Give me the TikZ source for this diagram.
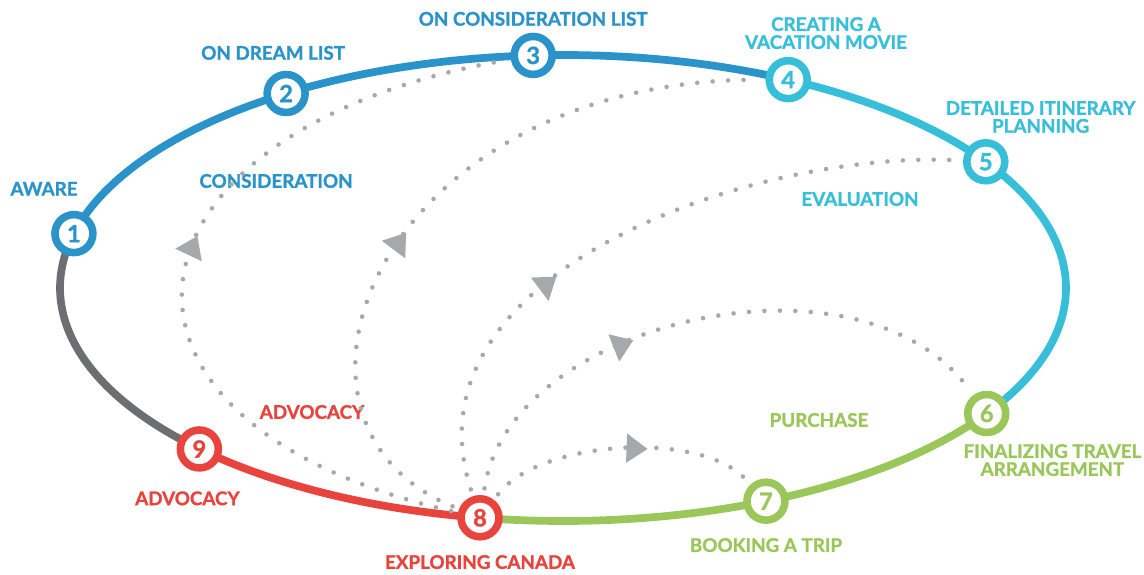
\documentclass[tikz,border=0pt]{standalone}
\usepackage{fontspec}
\setmainfont{Lato}[BoldFeatures={FakeBold=1.3}]
\usetikzlibrary{arrows.meta, positioning, decorations.markings}

\definecolor{stblue}{HTML}{2A93C9}
\definecolor{stcyan}{HTML}{37BFD9}
\definecolor{stgreen}{HTML}{9BC659}
\definecolor{stred}{HTML}{E8443D}
\definecolor{stgray}{HTML}{6D6E71}
\definecolor{dotgray}{HTML}{A7A8AC}

\begin{document}
\begin{tikzpicture}[
    x=0.02cm, y=0.02cm,
    ring/.style={line width=4.4pt},
    stage/.style={
        circle,
        draw=#1,
        fill=white,
        line width=4.3pt,
        minimum size=21.6pt,
        inner sep=0pt,
        text=#1,
        font=\fontsize{13.5}{13.5}\selectfont\bfseries
    },
    lbl/.style={
        text=#1,
        inner sep=0pt,
        align=center,
        font=\fontsize{10.7}{10.2}\selectfont\bfseries
    },
    flow/.style={
        dotgray,
        line width=2.6pt,
        line cap=round,
        dash pattern=on 0pt off 8.8pt,
        shorten <=4pt, shorten >=4pt,
        postaction={decorate},
        decoration={markings,
            mark=at position #1 with {\arrow{Triangle[length=12pt, width=16pt]}}}
    }
]
\useasboundingbox (0,0) rectangle (1144,575);

% Points on the loop
\begin{scope}[shift={(563,287)}]
\foreach \i/\t in {1/166.5, 2/123.4, 3/93.4, 4/63.4, 5/32.8,
                   6/-32.6, 7/-66.2, 8/-99.5, 9/-136.3}
    \coordinate (p\i) at (\t:503 and 233);
\end{scope}

% Loop
\draw[ring, stblue]  (p1) arc[start angle=166.5, end angle=63.4,   x radius=503, y radius=233];
\draw[ring, stcyan]  (p4) arc[start angle=63.4,  end angle=-32.6,  x radius=503, y radius=233];
\draw[ring, stgreen] (p6) arc[start angle=-32.6, end angle=-99.5,  x radius=503, y radius=233];
\draw[ring, stred]   (p8) arc[start angle=-99.5, end angle=-136.3, x radius=503, y radius=233];
\draw[ring, stgray]  (p9) arc[start angle=-136.3, end angle=-193.5, x radius=503, y radius=233];

% Stages
\node[stage=stblue]  (n1) at (p1) {1};
\node[stage=stblue]  (n2) at (p2) {2};
\node[stage=stblue]  (n3) at (p3) {3};
\node[stage=stcyan]  (n4) at (p4) {4};
\node[stage=stcyan]  (n5) at (p5) {5};
\node[stage=stgreen] (n6) at (p6) {6};
\node[stage=stgreen] (n7) at (p7) {7};
\node[stage=stred]   (n8) at (p8) {8};
\node[stage=stred]   (n9) at (p9) {9};

% Stage labels
\node[lbl=stblue, above=8.5pt of n1, xshift=-17pt]  (aware)    {AWARE};
\node[lbl=stblue, above=6pt of n2, xshift=-7.4pt]   (dream)    {ON DREAM LIST};
\node[lbl=stblue, above=3.7pt of n3]                (conslist) {ON CONSIDERATION LIST};
\node[lbl=stcyan, above=4.3pt of n4, xshift=21.5pt] (movie)    {CREATING A\\VACATION MOVIE};
\node[lbl=stcyan, above=3.3pt of n5, xshift=31.2pt] (itin)     {DETAILED ITINERARY\\PLANNING};
\node[lbl=stgreen, below=4.3pt of n6, xshift=37.4pt] (final)   {FINALIZING TRAVEL\\ARRANGEMENT};
\node[lbl=stgreen, below=7.9pt of n7]               (booking)  {BOOKING A TRIP};
\node[lbl=stred, below=8.1pt of n8]                 (explore)  {EXPLORING CANADA};
\node[lbl=stred, below=11pt of n9, xshift=-6.8pt]   (advout)   {ADVOCACY};

% Phase labels
\node[lbl=stblue]  (consider) at (276,394) {CONSIDERATION};
\node[lbl=stcyan]  (evaluate) at (860,376) {EVALUATION};
\node[lbl=stgreen] (purchase) at (819,155) {PURCHASE};
\node[lbl=stred]   (advin)    at (312,163) {ADVOCACY};

% Flows out of stage 8
\draw[flow=0.54] (n8) .. controls (60,155) and (110,445) .. (n3);
\draw[flow=0.45] (n8) .. controls (245,155) and (380,495) .. (n4);
\draw[flow=0.37] (n8) .. controls (400,305) and (760,425) .. (n5);
\draw[flow=0.38] (n8) .. controls (510,255) and (860,335) .. (n6);
\draw[flow=0.60] (n8) .. controls (540,135) and (700,145) .. (n7);

\end{tikzpicture}
\end{document}
